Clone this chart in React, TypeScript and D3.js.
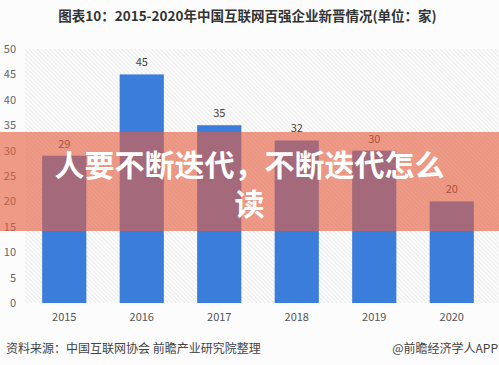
import React from 'react';
import * as d3 from 'd3';

const years = ['2015', '2016', '2017', '2018', '2019', '2020'];
const counts = [29, 45, 35, 32, 30, 20];
const yTicks = [0, 5, 10, 15, 20, 25, 30, 35, 40, 45, 50];

const title = '图表10：2015-2020年中国互联网百强企业新晋情况(单位：家)';
const source = '资料来源：中国互联网协会 前瞻产业研究院整理';
const credit = '@前瞻经济学人APP';
const overlayLines = ['人要不断迭代，不断迭代怎么', '读'];

const W = 499;
const H = 365;
const font = '"Noto Sans CJK SC", "Noto Sans", sans-serif';

export default function App() {
  const x = d3.scaleBand()
    .domain(years)
    .range([25.5, 490.5])
    .paddingInner(0.43)
    .paddingOuter(0.215);

  const y = d3.scaleLinear()
    .domain([0, 50])
    .range([303, 49]);

  return (
    <svg width={W} height={H} style={{ position: 'absolute', left: 0, top: 0, background: '#fdfdfd' }}>
      <defs>
        <pattern id="hatch" width="3" height="3" patternUnits="userSpaceOnUse" patternTransform="rotate(-45)">
          <line x1="0" y1="0" x2="0" y2="3" stroke="#dcdcdc" strokeWidth="1" />
        </pattern>
      </defs>
      <rect x={0} y={0} width={W} height={H} fill="#fcfcfd" />
      <rect x={25} y={y(50)} width={W - 25} height={y(0) - y(50)} fill="url(#hatch)" />

      <text x={W / 2 - 2} y={21} textAnchor="middle" fontFamily={font} fontSize={13.5} fontWeight="bold" fill="#333">
        {title}
      </text>

      {yTicks.map(t => (
        <text key={t} x={16} y={y(t) + 4} textAnchor="end" fontFamily={font} fontSize={11} fill="#666">
          {t}
        </text>
      ))}

      {years.map((yr, i) => (
        <g key={yr}>
          <rect x={x(yr)} y={y(counts[i])} width={x.bandwidth()} height={y(0) - y(counts[i])} fill="#3a7ddb" />
          <text x={(x(yr) as number) + x.bandwidth() / 2} y={y(counts[i]) - 8} textAnchor="middle"
            fontFamily={font} fontSize={11} fill="#444">
            {counts[i]}
          </text>
          <text x={(x(yr) as number) + x.bandwidth() / 2} y={321} textAnchor="middle"
            fontFamily={font} fontSize={11} fill="#555">
            {yr}
          </text>
        </g>
      ))}

      <text x={6} y={353} fontFamily={font} fontSize={12} fill="#444">{source}</text>
      <text x={498} y={353} textAnchor="end" fontFamily={font} fontSize={12} fill="#444">{credit}</text>

      <rect x={0} y={132} width={W} height={99} fill="rgb(229,93,63)" opacity={0.62} />
      {overlayLines.map((ln, i) => (
        <text key={i} x={W / 2} y={176 + i * 39} textAnchor="middle" fontFamily={font}
          fontSize={30} fontWeight="bold" fill="#fff">
          {ln}
        </text>
      ))}
    </svg>
  );
}
